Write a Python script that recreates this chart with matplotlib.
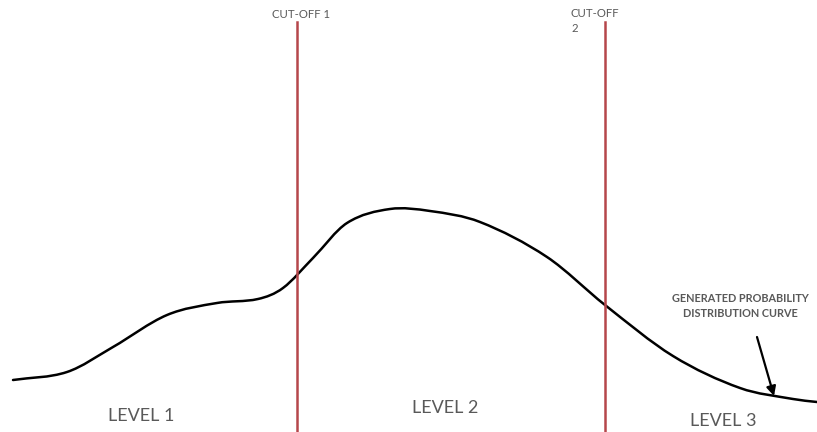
import matplotlib
matplotlib.use("Agg")
import matplotlib.pyplot as plt
from matplotlib.path import Path
from matplotlib.patches import PathPatch

# Curve samples (pixel-space reading of the reference: x, height from top)
curve_x = [13, 67, 113, 167, 217, 258, 283, 313, 347, 390, 430, 480,
           547, 605, 673, 740, 793, 817]
curve_y = [380, 372, 347, 315, 303, 299, 288, 258, 223, 209, 211, 222,
           257, 305, 356, 388, 399, 402]

cutoffs = [297, 605]
cutoff_labels = ["CUT-OFF 1", "CUT-OFF\n2"]
level_labels = ["LEVEL 1", "LEVEL 2", "LEVEL 3"]
level_pos = [(141, 416), (445, 408), (723, 421)]

W, H = 817, 432
fig = plt.figure(figsize=(W / 100, H / 100), dpi=100)
ax = fig.add_axes([0, 0, 1, 1])
ax.set_xlim(0, W)
ax.set_ylim(H, 0)
ax.axis("off")

font = ["Lato", "DejaVu Sans"]
grey = "#595959"

# smooth curve through the samples (cubic Hermite in x -> Bezier segments)
n = len(curve_x)
slopes = []
for i in range(n):
    a = max(i - 1, 0)
    b = min(i + 1, n - 1)
    slopes.append((curve_y[b] - curve_y[a]) / (curve_x[b] - curve_x[a]))
verts = [(curve_x[0], curve_y[0])]
codes = [Path.MOVETO]
for i in range(n - 1):
    dx = (curve_x[i + 1] - curve_x[i]) / 3
    verts += [(curve_x[i] + dx, curve_y[i] + slopes[i] * dx),
              (curve_x[i + 1] - dx, curve_y[i + 1] - slopes[i + 1] * dx),
              (curve_x[i + 1], curve_y[i + 1])]
    codes += [Path.CURVE4] * 3
ax.add_patch(PathPatch(Path(verts, codes), fill=False, edgecolor="black",
                       lw=1.8, capstyle="round", joinstyle="round"))

for x in cutoffs:
    ax.plot([x, x], [22, H], color="#b5464b", lw=1.8)

ax.text(272, 15, cutoff_labels[0], fontsize=8.2, color=grey, family=font,
        ha="left", va="center")
ax.text(571, 8, cutoff_labels[1], fontsize=8.2, color=grey, family=font,
        ha="left", va="top", linespacing=1.45)

for lab, (x, y) in zip(level_labels, level_pos):
    ax.text(x, y, lab, fontsize=13, color=grey, family=font,
            ha="center", va="center")

ax.text(740, 306, "GENERATED PROBABILITY\nDISTRIBUTION CURVE", fontsize=7.8,
        color=grey, family=font, ha="center", va="center", linespacing=1.35,
        fontweight="bold")
ax.annotate("", xy=(774, 396), xytext=(757, 337),
            arrowprops=dict(arrowstyle="-|>", color="black", lw=1.6,
                            mutation_scale=14, shrinkA=0, shrinkB=0))

fig.savefig("out.png", dpi=100)
